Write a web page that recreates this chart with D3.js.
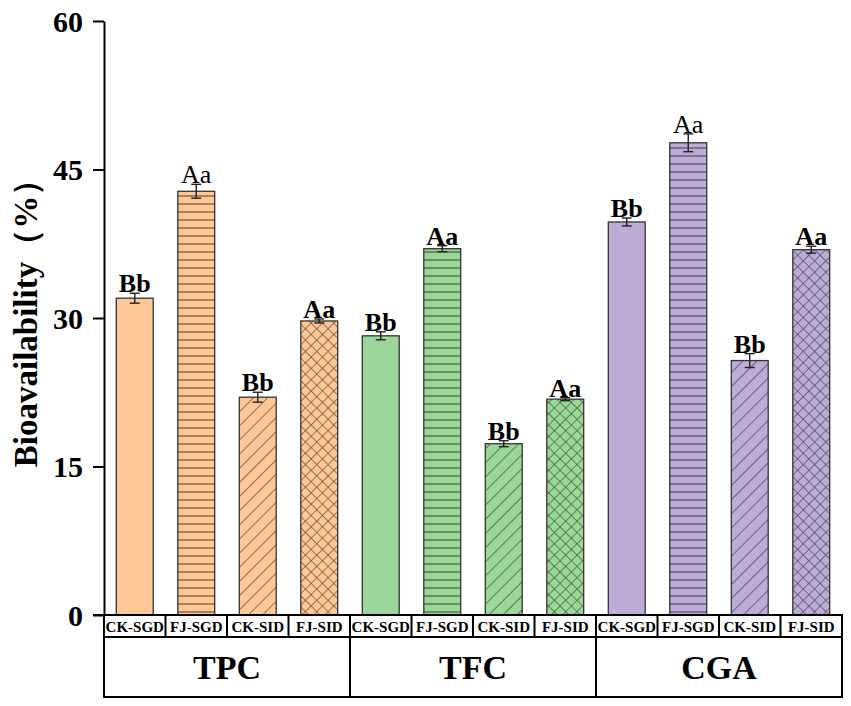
<!DOCTYPE html>
<html>
<head>
<meta charset="utf-8">
<script src="https://cdn.jsdelivr.net/npm/d3@7"></script>
<style>
  body { margin: 0; background: #fff; }
  text { font-family: "Liberation Serif", "Times New Roman", serif; }
</style>
</head>
<body>
<div id="chart"></div>
<script>
// data
const groups = ["TPC", "TFC", "CGA"]
const treatments = ["CK-SGD", "FJ-SGD", "CK-SID", "FJ-SID"]
const values = [
  [32.0, 42.8, 22.0, 29.7],
  [28.2, 37.0, 17.3, 21.8],
  [39.7, 47.7, 25.7, 36.9]
]
const errors = [
  [0.5, 0.7, 0.5, 0.2],
  [0.4, 0.3, 0.3, 0.15],
  [0.4, 0.9, 0.7, 0.35]
]
const letters = [
  ["Bb", "Aa", "Bb", "Aa"],
  ["Bb", "Aa", "Bb", "Aa"],
  ["Bb", "Aa", "Bb", "Aa"]
]
// letters that are printed in regular weight
const lightLetters = [[false, true, false, false], [false, false, false, false], [false, true, false, false]]
const yTicks = [0, 15, 30, 45, 60]

const fills = ["#ffc898", "#9dd69a", "#bcadd6"]
const inks = ["#6b4026", "#2f5a2c", "#4d3d66"]
const patterns = ["none", "hline", "diag", "cross"]

const width = 851, height = 706
const margin = { left: 104, right: 9, top: 21, bottom: 91 }
const plotW = width - margin.left - margin.right
const baseY = height - margin.bottom

let svg = d3.select("#chart").append("svg")
  .attr("width", width)
  .attr("height", height)

// hatch patterns, one set per colour
let defs = svg.append("defs")
groups.forEach((g, gi) => {
  let p = defs.append("pattern").attr("id", "hline" + gi)
    .attr("patternUnits", "userSpaceOnUse").attr("width", 8).attr("height", 8)
  p.append("rect").attr("width", 8).attr("height", 8).attr("fill", fills[gi])
  p.append("line").attr("x1", 0).attr("x2", 8).attr("y1", 4).attr("y2", 4)
    .attr("stroke", inks[gi]).attr("stroke-width", 1.1)

  let d = defs.append("pattern").attr("id", "diag" + gi)
    .attr("patternUnits", "userSpaceOnUse").attr("width", 10).attr("height", 10)
    .attr("patternTransform", "rotate(45)")
  d.append("rect").attr("width", 10).attr("height", 10).attr("fill", fills[gi])
  d.append("line").attr("x1", 0).attr("x2", 0).attr("y1", 0).attr("y2", 10)
    .attr("stroke", inks[gi]).attr("stroke-width", 1.4)

  let c = defs.append("pattern").attr("id", "cross" + gi)
    .attr("patternUnits", "userSpaceOnUse").attr("width", 8).attr("height", 8)
    .attr("patternTransform", "rotate(45)")
  c.append("rect").attr("width", 8).attr("height", 8).attr("fill", fills[gi])
  c.append("line").attr("x1", 0).attr("x2", 0).attr("y1", 0).attr("y2", 8)
    .attr("stroke", inks[gi]).attr("stroke-width", 1.3)
  c.append("line").attr("x1", 0).attr("x2", 8).attr("y1", 0).attr("y2", 0)
    .attr("stroke", inks[gi]).attr("stroke-width", 1.3)
})

// flat list of bars
let bars = []
groups.forEach((g, gi) => {
  treatments.forEach((t, ti) => {
    bars.push({ key: g + "|" + t, group: gi, t: ti, value: values[gi][ti],
      err: errors[gi][ti], letter: letters[gi][ti], light: lightLetters[gi][ti] })
  })
})

let x = d3.scaleBand()
  .domain(bars.map(d => d.key))
  .range([margin.left, margin.left + plotW])
  .paddingInner(0.4).paddingOuter(0.2)
let cell = d3.scaleBand()
  .domain(bars.map(d => d.key))
  .range([margin.left, margin.left + plotW])
let gx = d3.scaleBand().domain(groups).range([margin.left, margin.left + plotW])

let y = d3.scaleLinear().domain([0, 60]).range([baseY, margin.top])

// y axis
let yAxis = svg.append("g")
  .attr("transform", "translate(" + margin.left + ",0)")
  .call(d3.axisLeft(y).tickValues(yTicks).tickSize(11).tickSizeOuter(0).tickPadding(10))
yAxis.select(".domain").attr("stroke-width", 2)
yAxis.selectAll(".tick line").attr("stroke-width", 2)
yAxis.selectAll(".tick text")
  .style("font-size", "30px").style("font-weight", "bold")
  .attr("fill", "#000").attr("dy", "0.34em")

svg.append("text")
  .attr("transform", "translate(37,315) rotate(-90)")
  .attr("text-anchor", "middle")
  .style("font-size", "33px").style("font-weight", "bold")
  .text("Bioavailability（%）")

// bars
let barG = svg.append("g")
barG.selectAll("rect").data(bars).enter().append("rect")
  .attr("x", d => x(d.key))
  .attr("width", x.bandwidth())
  .attr("y", d => y(d.value))
  .attr("height", d => baseY - y(d.value))
  .attr("fill", d => patterns[d.t] == "none" ? fills[d.group] : "url(#" + patterns[d.t] + d.group + ")")
  .attr("stroke", "#333").attr("stroke-width", 1.3)

// error bars
let errG = svg.append("g").attr("stroke", "#222").attr("stroke-width", 1.4)
bars.forEach(d => {
  let cx = x(d.key) + x.bandwidth() / 2
  errG.append("line").attr("x1", cx).attr("x2", cx)
    .attr("y1", y(d.value + d.err)).attr("y2", y(d.value - d.err))
  errG.append("line").attr("x1", cx - 5).attr("x2", cx + 5)
    .attr("y1", y(d.value + d.err)).attr("y2", y(d.value + d.err))
  errG.append("line").attr("x1", cx - 5).attr("x2", cx + 5)
    .attr("y1", y(d.value - d.err)).attr("y2", y(d.value - d.err))
})

// significance letters
svg.append("g").selectAll("text").data(bars).enter().append("text")
  .attr("x", d => x(d.key) + x.bandwidth() / 2)
  .attr("y", d => y(d.value + d.err) - 1)
  .attr("text-anchor", "middle")
  .style("font-size", "26px")
  .style("font-weight", d => d.light ? "normal" : "bold")
  .text(d => d.letter)

// baseline
svg.append("line")
  .attr("x1", margin.left - 11).attr("x2", margin.left + plotW)
  .attr("y1", baseY).attr("y2", baseY)
  .attr("stroke", "#000").attr("stroke-width", 2)

// label table under the axis
let row1 = baseY + 22, row2 = baseY + 82
let table = svg.append("g").attr("stroke", "#000").attr("stroke-width", 2).attr("fill", "none")
table.append("rect").attr("x", margin.left).attr("y", baseY)
  .attr("width", plotW).attr("height", row2 - baseY)
table.append("line").attr("x1", margin.left).attr("x2", margin.left + plotW)
  .attr("y1", row1).attr("y2", row1)
bars.forEach((d, i) => {
  if (i > 0) {
    table.append("line").attr("x1", cell(d.key)).attr("x2", cell(d.key))
      .attr("y1", baseY).attr("y2", d.t == 0 ? row2 : row1)
  }
})

svg.append("g").selectAll("text").data(bars).enter().append("text")
  .attr("x", d => cell(d.key) + cell.bandwidth() / 2)
  .attr("y", baseY + 16.5)
  .attr("text-anchor", "middle")
  .style("font-size", "15px").style("font-weight", "bold")
  .text(d => treatments[d.t])

svg.append("g").selectAll("text").data(groups).enter().append("text")
  .attr("x", d => gx(d) + gx.bandwidth() / 2)
  .attr("y", row1 + 42)
  .attr("text-anchor", "middle")
  .style("font-size", "34px").style("font-weight", "bold")
  .text(d => d)
</script>
</body>
</html>
